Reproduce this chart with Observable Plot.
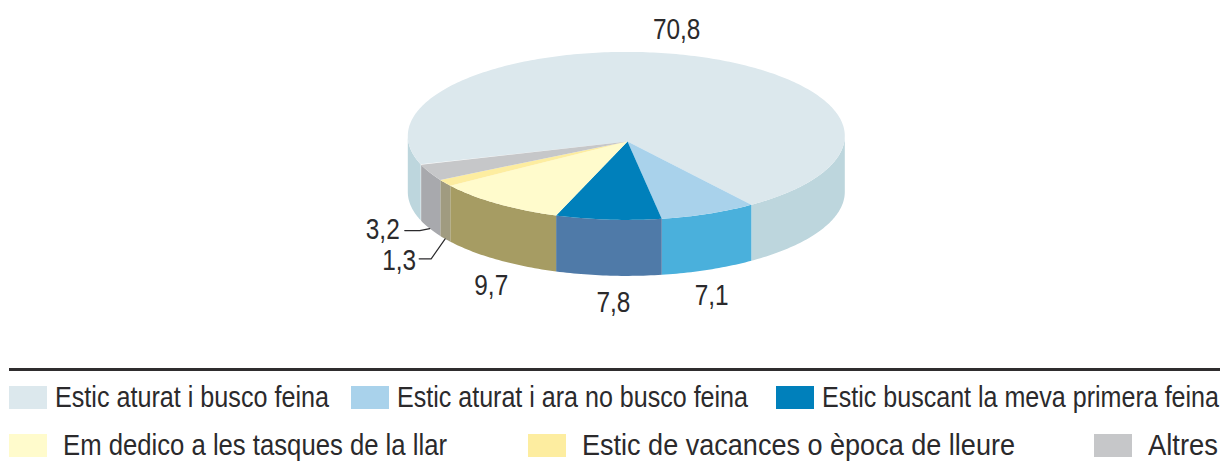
<!DOCTYPE html>
<html lang="ca">
<head>
<meta charset="utf-8">
<script src="https://cdn.jsdelivr.net/npm/d3@7"></script>
<script src="https://cdn.jsdelivr.net/npm/@observablehq/plot@0.6"></script>
<style>
  html, body { margin: 0; padding: 0; background: #fff; }
  #page { width: 1224px; height: 463px; position: relative; overflow: hidden; font-family: "Liberation Sans", sans-serif; color: #2b2a2c; }
  svg { display: block; }
  #rule { position: absolute; left: 9px; top: 368px; width: 1211px; height: 3px; background: #2f2d2e; }
  .row { position: absolute; left: 9px; width: 1209px; display: flex; justify-content: space-between; align-items: center; height: 24px; font-size: 29px; line-height: 24px; white-space: nowrap; }
  .item { display: flex; align-items: center; position: relative; }
  .sw { display: inline-block; width: 38px; height: 23px; flex: none; }
  .lab { display: inline-block; overflow: visible; }
  .lab span { display: inline-block; transform-origin: 0 50%; }
  #row1 { top: 385px; } #row1 .sw { margin-right: 8px; }
  #row2 { top: 433px; } #row2 .sw { margin-right: 16px; }
</style>
</head>
<body>
<div id="page">
  <div id="chart"></div>
  <div id="rule"></div>
  <div class="row" id="row1"></div>
  <div class="row" id="row2"></div>
</div>
<script>
const categories = ["Estic aturat i busco feina", "Estic aturat i ara no busco feina", "Estic buscant la meva primera feina", "Em dedico a les tasques de la llar", "Estic de vacances o època de lleure", "Altres"];
const values = [70.8, 7.1, 7.8, 9.7, 1.3, 3.2];
const topColors = ["#dce8ed", "#a9d2eb", "#0080bb", "#fffbcc", "#fdeda0", "#c6c7c9"];
const sideColors = ["#bdd6dd", "#4ab0dc", "#4f7aa8", "#a69c63", "#a09b80", "#a8a9ad"];

// Layout (separate from the data)
const legendWidths = [274, 351, 397, 384, 433, 70];
const legendNudges = [0, -3, 1, 0, 1, 0];
const W = 1224, H = 362;
const cx = 625.8, cy = 135.4, rx = 218.5, ry = 84, depth = 56, apexDy = 5.5;
const startAngle = 55.1 - 360 * values[0] / 100;   // first slice ends at 55.1°
const rad = d => d * Math.PI / 180;
const px = t => cx + rx * Math.cos(rad(t));
const py = t => cy + ry * Math.sin(rad(t));

let a = startAngle;
const slices = values.map((v, i) => { const s = {i, a0: a, a1: a + 3.6 * v}; a = s.a1; return s; });

function arc(a0, a1) {
  const n = Math.max(2, Math.ceil(a1 - a0));
  return d3.range(n + 1).map(k => a0 + (a1 - a0) * k / n);
}

const polys = [];
// side walls: only the front half of the ellipse is visible
slices.forEach(s => {
  for (const k of [-360, 0, 360]) {
    const lo = Math.max(s.a0, k), hi = Math.min(s.a1, k + 180);
    if (hi > lo) {
      const ts = arc(lo, hi), id = `w${s.i}_${k}`;
      ts.forEach(t => polys.push({id, x: px(t), y: py(t), c: sideColors[s.i]}));
      ts.slice().reverse().forEach(t => polys.push({id, x: px(t), y: py(t) + depth, c: sideColors[s.i]}));
    }
  }
});
// top faces
slices.forEach(s => {
  const id = `t${s.i}`;
  polys.push({id, x: cx + 1.2, y: cy + apexDy, c: topColors[s.i]});
  arc(s.a0, s.a1).forEach(t => polys.push({id, x: px(t), y: py(t), c: topColors[s.i]}));
});

// label offsets from the rim's mid point
const labelOffsets = [[-16, -26], [3, 26], [5, 27], [-6, 26], [-46, 22], [-47, 1]];
const labels = slices.map(s => {
  const m = (s.a0 + s.a1) / 2;
  const front = Math.sin(rad(m)) > 0;
  const [dx, dy] = labelOffsets[s.i];
  return {
    text: d3.format(".1f")(values[s.i]).replace(".", ","),
    mx: px(m), my: py(m) + (front ? depth : 0), dx, dy
  };
});
// leader lines for the two small slices (offsets from the rim mid point)
const leaderOffsets = {5: [[0, 0], [-10, 2], [-25, 2]], 4: [[0, 0], [-14, 20], [-26, 20]]};
const leaders = [];
for (const [i, off] of Object.entries(leaderOffsets)) {
  const l = labels[+i];
  off.forEach(([dx, dy]) => leaders.push({i: +i, x: l.mx + dx, y: l.my + dy}));
}

const plot = Plot.plot({
  width: W, height: H,
  margin: 0,
  x: {domain: [0, W], range: [0, W], axis: null},
  y: {domain: [0, H], range: [0, H], axis: null},
  color: {type: "identity"},
  style: {background: "transparent"},
  marks: [
    Plot.line(polys, {x: "x", y: "y", z: "id", fill: "c", stroke: "none", curve: "linear"}),
    Plot.line(leaders, {x: "x", y: "y", z: "i", stroke: "#2b2a2c", strokeWidth: 1.2}),
    Plot.text(labels, {
      x: d => d.mx + d.dx, y: d => d.my + d.dy, text: "text",
      fontFamily: '"Liberation Sans", sans-serif',
      fontSize: 29, fill: "#2b2a2c", textAnchor: "middle", lineAnchor: "middle"
    })
  ]
});
document.getElementById("chart").append(plot);
// narrow the value labels to the reference's condensed look
plot.querySelectorAll("text").forEach(t => {
  t.setAttribute("lengthAdjust", "spacingAndGlyphs");
  t.setAttribute("textLength", (t.getComputedTextLength() * 0.84).toFixed(1));
});

categories.forEach((c, i) => {
  const row = document.getElementById(i < 3 ? "row1" : "row2");
  const item = document.createElement("div");
  item.className = "item";
  item.style.left = legendNudges[i] + "px";
  const sw = document.createElement("span");
  sw.className = "sw";
  sw.style.background = topColors[i];
  const lab = document.createElement("span");
  lab.className = "lab";
  const t = document.createElement("span");
  t.textContent = c;
  lab.append(t);
  item.append(sw, lab);
  row.append(item);
  const natural = t.getBoundingClientRect().width;
  t.style.transform = `scaleX(${legendWidths[i] / natural})`;
  lab.style.width = legendWidths[i] + "px";
});
</script>
</body>
</html>
